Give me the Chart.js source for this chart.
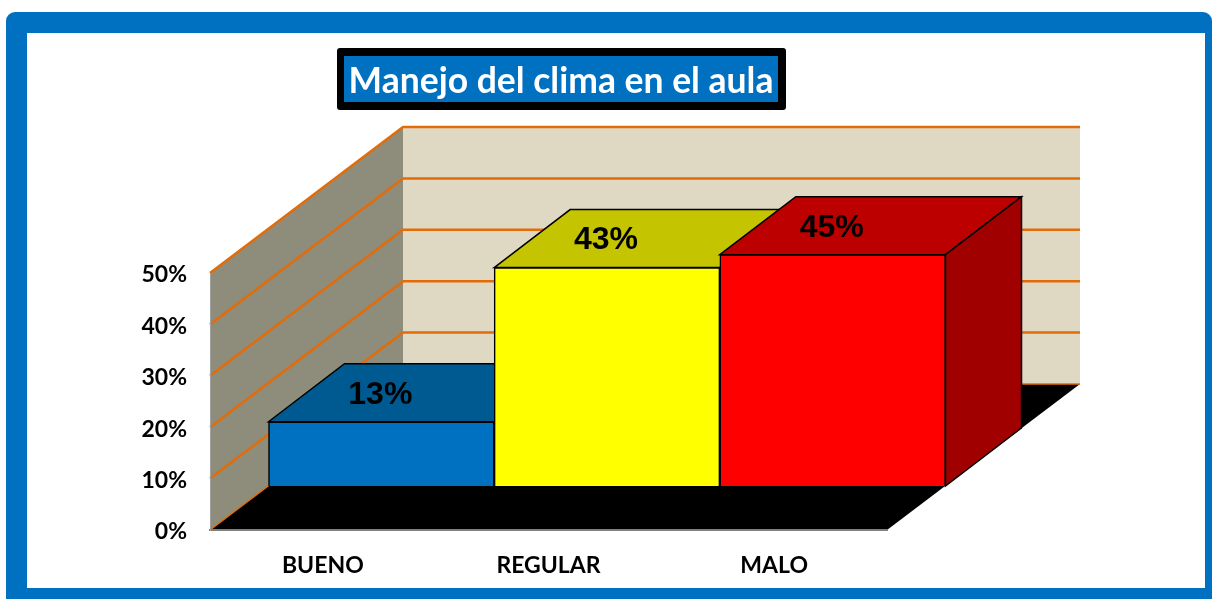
<!DOCTYPE html>
<html lang="es">
<head>
<meta charset="utf-8">
<title>Manejo del clima en el aula</title>
<script src="https://cdn.jsdelivr.net/npm/chart.js@4"></script>
<style>
    html, body { margin: 0; padding: 0; background: #fff; overflow: hidden; }
    #frame { position: absolute; left: 6px; top: 12px; width: 1206px; height: 587px; background: #0070c0; border-radius: 9px 9px 0 0; }
    #inner { position: absolute; left: 27px; top: 33px; width: 1178px; height: 555px; background: #fff; }
    #climaChart { position: absolute; left: 0; top: 0; }
</style>
</head>
<body>
<div id="frame"></div>
<div id="inner"></div>
<canvas id="climaChart" width="1212" height="599"></canvas>
<script>
const chartTitle = 'Manejo del clima en el aula';
const categories = ['BUENO', 'REGULAR', 'MALO'];
const values = [12.5, 42.5, 45];
const frontColors = ['#0070C0', '#FFFF00', '#FF0000'];
const topColors = ['#005A92', '#C4C400', '#BC0000'];
const sideColors = ['#004F80', '#A0A000', '#A00000'];

// the fake 3D: the axes sit on the front plane, bars and walls are pushed back from it
const barShift = { x: 58.5, y: -44 };
const barDepth = { x: 76, y: -58 };
const wallDepth = { x: 193, y: -146 };

function poly(ctx, points, fill, stroke) {
    ctx.beginPath();
    points.forEach(function (p, i) {
        if (i === 0) ctx.moveTo(p[0], p[1]);
        else ctx.lineTo(p[0], p[1]);
    });
    ctx.closePath();
    ctx.fillStyle = fill;
    ctx.fill();
    if (stroke) {
        ctx.strokeStyle = stroke;
        ctx.lineWidth = 1.5;
        ctx.stroke();
    }
}

const roomPlugin = {
    id: 'room',
    beforeDraw: function (chart) {
        const ctx = chart.ctx;
        const y = chart.scales.y;
        const area = chart.chartArea;
        const dx = wallDepth.x;
        const dy = wallDepth.y;

        // title box
        ctx.fillStyle = '#000';
        ctx.beginPath();
        ctx.roundRect(337, 48, 449, 62, 3);
        ctx.fill();
        ctx.fillStyle = '#0070C0';
        ctx.fillRect(344, 56, 434, 46);

        poly(ctx, [[area.left + dx, area.top + dy], [area.right + dx, area.top + dy],
            [area.right + dx, area.bottom + dy], [area.left + dx, area.bottom + dy]], '#DFD9C3');
        poly(ctx, [[area.left, area.top], [area.left + dx, area.top + dy],
            [area.left + dx, area.bottom + dy], [area.left, area.bottom]], '#8E8C7A');
        poly(ctx, [[area.left, area.bottom], [area.right, area.bottom],
            [area.right + dx, area.bottom + dy], [area.left + dx, area.bottom + dy]], '#000');

        ctx.strokeStyle = '#E36C0A';
        y.ticks.forEach(function (tick) {
            const py = y.getPixelForValue(tick.value);
            ctx.lineWidth = tick.value === 0 ? 1.5 : 2.5;
            ctx.beginPath();
            ctx.moveTo(area.left, py);
            ctx.lineTo(area.left + dx, py + dy);
            ctx.lineTo(area.right + dx, py + dy);
            ctx.stroke();
        });
    },
    afterLayout: function (chart) {
        // title sits over its box, not over the middle of the page
        chart.titleBlock.left = 344;
        chart.titleBlock.right = 778;
    },
    beforeDatasetDraw: function (chart, args) {
        const ctx = chart.ctx;
        const base = chart.scales.y.getPixelForValue(0);
        args.meta.data.forEach(function (bar, i) {
            const half = bar.width / 2;
            const l = bar.x - half + barShift.x;
            const r = bar.x + half + barShift.x;
            const t = bar.y + barShift.y;
            const b = base + barShift.y;
            poly(ctx, [[l, t], [l + barDepth.x, t + barDepth.y], [r + barDepth.x, t + barDepth.y], [r, t]], topColors[i], '#000');
            poly(ctx, [[r, t], [r + barDepth.x, t + barDepth.y], [r + barDepth.x, b + barDepth.y], [r, b]], sideColors[i], '#000');
        });
        ctx.save();
        ctx.translate(barShift.x, barShift.y);
    },
    afterDatasetDraw: function (chart) {
        chart.ctx.restore();
    },
    afterDatasetsDraw: function (chart) {
        const ctx = chart.ctx;
        ctx.fillStyle = '#000';
        ctx.font = 'bold 32px "Liberation Sans", Arial, sans-serif';
        ctx.textAlign = 'center';
        ctx.textBaseline = 'middle';
        chart.getDatasetMeta(0).data.forEach(function (bar, i) {
            ctx.fillText(Math.round(values[i]) + '%', bar.x + barShift.x - 1, bar.y + barShift.y - 27);
        });
    }
};

Chart.defaults.font.family = 'Lato, sans-serif';

new Chart(document.getElementById('climaChart'), {
    type: 'bar',
    data: {
        labels: categories,
        datasets: [{
            data: values,
            backgroundColor: frontColors,
            borderColor: '#000',
            borderWidth: 1.5,
            barPercentage: 1,
            categoryPercentage: 1,
            clip: false
        }]
    },
    options: {
        responsive: false,
        animation: false,
        layout: {
            padding: { left: 100, right: 325, top: 59, bottom: 17 }
        },
        plugins: {
            legend: { display: false },
            tooltip: { enabled: false },
            title: {
                display: true,
                text: chartTitle,
                color: '#fff',
                font: { size: 35.5, weight: 'bold', family: 'Lato, sans-serif', lineHeight: 46 / 35.5 },
                padding: { top: 0, bottom: 168 }
            }
        },
        scales: {
            x: {
                grid: { display: false, drawTicks: false },
                border: { color: '#808080', width: 2 },
                ticks: {
                    color: '#000',
                    font: { size: 23, weight: 'bold' },
                    padding: 22,
                    maxRotation: 0
                },
                afterFit: function (scale) { scale.height = 52; }
            },
            y: {
                min: 0,
                max: 50,
                grid: { display: false, drawTicks: false },
                border: { color: '#A0A0A0', width: 1 },
                ticks: {
                    color: '#000',
                    stepSize: 10,
                    padding: 23,
                    labelOffset: 2,
                    font: { size: 23, weight: 'bold' },
                    callback: function (value) { return value + '%'; }
                },
                afterFit: function (scale) { scale.width = 110; }
            }
        }
    },
    plugins: [roomPlugin]
});
</script>
</body>
</html>
